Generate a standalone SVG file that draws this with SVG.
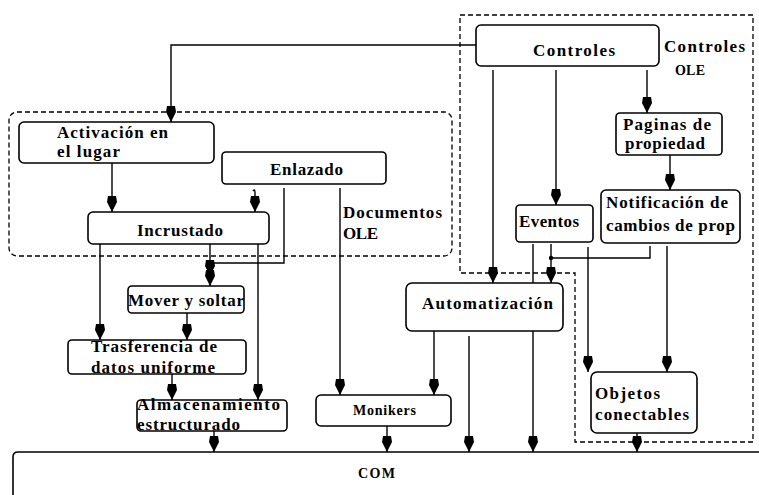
<svg xmlns="http://www.w3.org/2000/svg" width="759" height="495" viewBox="0 0 759 495">
  <style>
    .box { fill: #ffffff; stroke: #000000; stroke-width: 1.6; }
    .group { fill: none; stroke: #000000; stroke-width: 1.3; stroke-dasharray: 5 3; }
    .wire { fill: none; stroke: #000000; stroke-width: 1.4; }
    .lbl { font-family: "Liberation Serif", "Times New Roman", serif; font-weight: bold; font-size: 17px; fill: #000000; }
    .sm { font-size: 14px; }
  </style>
  <defs>
    <marker id="arrow" viewBox="0 0 16 10" refX="16" refY="5" markerWidth="16" markerHeight="10" markerUnits="userSpaceOnUse" orient="auto">
      <path d="M0,1 L6,0 L16,5 L6,10 L0,9 Z" fill="#000000"/>
    </marker>
  </defs>

  <rect width="759" height="495" fill="#ffffff"/>

  <!-- grouping regions -->
  <g id="regions">
    <rect class="group" x="9" y="112" width="443" height="144" rx="8"/>
    <path class="group" d="M460,15 H753 V442 H575 V273 H460 Z" stroke-dasharray="4 3"/>
  </g>

  <!-- connectors -->
  <g id="connectors">
    <path class="wire" d="M476,45 H171 V122" marker-end="url(#arrow)"/>
    <path class="wire" d="M112,163 V212" marker-end="url(#arrow)"/>
    <path class="wire" d="M253,191 Q255,188 255,193 V212" marker-end="url(#arrow)"/>
    <path class="wire" d="M284,188 V263 H210 V276" marker-end="url(#arrow)"/>
    <path class="wire" d="M210,244 V286" marker-end="url(#arrow)"/>
    <path class="wire" d="M100,244 V340" marker-end="url(#arrow)"/>
    <path class="wire" d="M258,244 V400" marker-end="url(#arrow)"/>
    <path class="wire" d="M187,313 V340" marker-end="url(#arrow)"/>
    <path class="wire" d="M172,374 V400" marker-end="url(#arrow)"/>
    <path class="wire" d="M214,431 V452" marker-end="url(#arrow)"/>
    <path class="wire" d="M340,188 V395" marker-end="url(#arrow)"/>
    <path class="wire" d="M387,426 V452" marker-end="url(#arrow)"/>
    <path class="wire" d="M493,70 V283" marker-end="url(#arrow)"/>
    <path class="wire" d="M556,70 V205" marker-end="url(#arrow)"/>
    <path class="wire" d="M647,70 V113" marker-end="url(#arrow)"/>
    <path class="wire" d="M670,155 V190" marker-end="url(#arrow)"/>
    <path class="wire" d="M551,244 V283" marker-end="url(#arrow)"/>
    <path class="wire" d="M650,246 V258 H551"/>
    <circle cx="551" cy="258" r="2.2" fill="#000000"/>
    <path class="wire" d="M533,244 V452" marker-end="url(#arrow)"/>
    <path class="wire" d="M434,331 V395" marker-end="url(#arrow)"/>
    <path class="wire" d="M469,336 V452" marker-end="url(#arrow)"/>
    <path class="wire" d="M588,247 V372" marker-end="url(#arrow)"/>
    <path class="wire" d="M667,246 V372" marker-end="url(#arrow)"/>
    <path class="wire" d="M637,433 V452" marker-end="url(#arrow)"/>
  </g>

  <!-- nodes -->
  <g id="controles">
    <rect class="box" x="476" y="25" width="183" height="41" rx="5"/>
    <text class="lbl" x="533" y="56" textLength="82" lengthAdjust="spacing">Controles</text>
  </g>
  <g id="controles-ole-label">
    <text class="lbl" x="664" y="52" textLength="81" lengthAdjust="spacing">Controles</text>
    <text class="lbl sm" x="675" y="75" textLength="30" lengthAdjust="spacing">OLE</text>
  </g>
  <g id="activacion">
    <rect class="box" x="19" y="122" width="195" height="41" rx="5"/>
    <text class="lbl" x="57" y="138" textLength="111" lengthAdjust="spacing">Activación en</text>
    <text class="lbl" x="57" y="157" textLength="63" lengthAdjust="spacing">el lugar</text>
  </g>
  <g id="enlazado">
    <rect class="box" x="222" y="152" width="164" height="32" rx="4"/>
    <text class="lbl" x="270" y="175" textLength="73" lengthAdjust="spacing">Enlazado</text>
  </g>
  <g id="incrustado">
    <rect class="box" x="88" y="212" width="181" height="32" rx="5"/>
    <text class="lbl" x="137" y="236" textLength="86" lengthAdjust="spacing">Incrustado</text>
  </g>
  <g id="documentos-ole-label">
    <text class="lbl" x="343" y="218" textLength="99" lengthAdjust="spacing">Documentos</text>
    <text class="lbl" x="343" y="239" textLength="35" lengthAdjust="spacing">OLE</text>
  </g>
  <g id="mover">
    <rect class="box" x="128" y="286" width="116" height="27" rx="4"/>
    <text class="lbl" x="128" y="306" textLength="116" lengthAdjust="spacing">Mover y soltar</text>
  </g>
  <g id="trasferencia">
    <rect class="box" x="68" y="340" width="178" height="34" rx="4"/>
    <text class="lbl" x="91" y="352" textLength="126" lengthAdjust="spacing">Trasferencia de</text>
    <text class="lbl" x="91" y="373" textLength="124" lengthAdjust="spacing">datos uniforme</text>
  </g>
  <g id="almacenamiento">
    <rect class="box" x="137" y="400" width="150" height="31" rx="4"/>
    <text class="lbl" x="137" y="410" textLength="143" lengthAdjust="spacing">Almacenamiento</text>
    <text class="lbl" x="137" y="430" textLength="103" lengthAdjust="spacing">estructurado</text>
  </g>
  <g id="monikers">
    <rect class="box" x="316" y="395" width="135" height="31" rx="5"/>
    <text class="lbl sm" x="353" y="415" textLength="63" lengthAdjust="spacing">Monikers</text>
  </g>
  <g id="automatizacion">
    <rect class="box" x="406" y="283" width="157" height="48" rx="6"/>
    <text class="lbl" x="422" y="309" textLength="131" lengthAdjust="spacing">Automatización</text>
  </g>
  <g id="eventos">
    <rect class="box" x="516" y="205" width="77" height="37" rx="4"/>
    <text class="lbl" x="519" y="227" textLength="60" lengthAdjust="spacing">Eventos</text>
  </g>
  <g id="paginas">
    <rect class="box" x="616" y="113" width="106" height="42" rx="4"/>
    <text class="lbl" x="623" y="130" textLength="88" lengthAdjust="spacing">Paginas de</text>
    <text class="lbl" x="625" y="149" textLength="80" lengthAdjust="spacing">propiedad</text>
  </g>
  <g id="notificacion">
    <rect class="box" x="601" y="190" width="139" height="53" rx="5"/>
    <text class="lbl" x="606" y="208" textLength="122" lengthAdjust="spacing">Notificación de</text>
    <text class="lbl" x="606" y="231" textLength="129" lengthAdjust="spacing">cambios de prop</text>
  </g>
  <g id="objetos">
    <rect class="box" x="591" y="372" width="106" height="61" rx="6"/>
    <text class="lbl" x="595" y="399" textLength="65" lengthAdjust="spacing">Objetos</text>
    <text class="lbl" x="595" y="420" textLength="94" lengthAdjust="spacing">conectables</text>
  </g>
  <g id="com">
    <path class="box" d="M13,500 V457 Q13,452 18,452 H765 V500 Z"/>
    <text class="lbl sm" x="358" y="478" textLength="37" lengthAdjust="spacing">COM</text>
  </g>
</svg>
